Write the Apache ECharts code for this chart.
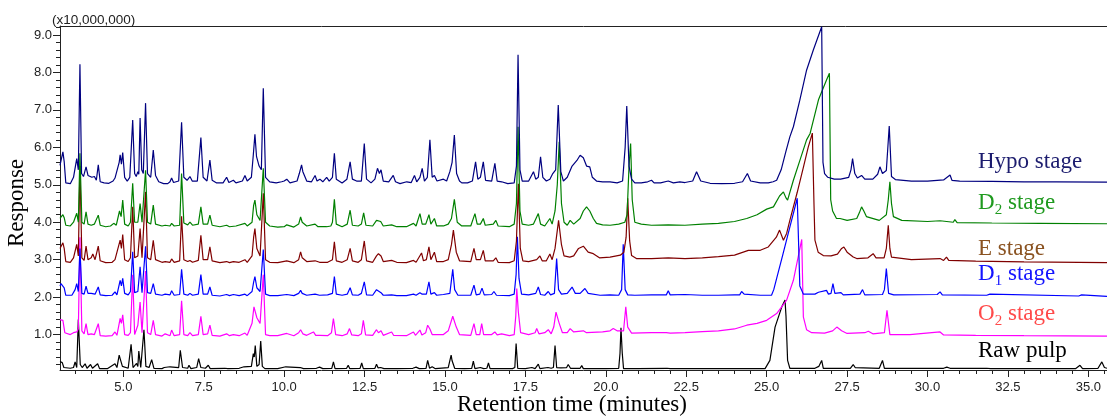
<!DOCTYPE html>
<html>
<head>
<meta charset="utf-8">
<script src="https://cdn.jsdelivr.net/npm/echarts@6/dist/echarts.min.js"></script>
<style>
  html, body { margin: 0; padding: 0; background: #fff; }
  #chart { width: 1107px; height: 419px; }
</style>
</head>
<body>
<div id="chart"></div>
<script>
// Total ion chromatograms of pulp bleaching stages, response in units of 1e7.
// Each trace is a list of [retention time (min), response] points.

const hypoStage = [[3.03,5.52],[3.06,5.57],[3.12,5.88],[3.16,5.62],[3.21,5.05],[3.35,5.03],[3.45,5.2],[3.55,5.70],[3.60,5.4],[3.65,8.22],[3.70,5.3],[3.76,5.22],[3.84,5.48],[3.90,5.25],[3.96,5.28],[4.02,5.2],[4.10,5.22],[4.16,5.12],[4.22,5.53],[4.28,5.08],[4.40,5.05],[4.55,5.04],[4.68,5.1],[4.74,5.18],[4.80,5.15],[4.87,5.6],[4.90,5.8],[4.94,5.55],[4.98,5.86],[5.04,5.2],[5.12,5.1],[5.20,5.2],[5.29,6.73],[5.35,5.3],[5.40,5.22],[5.45,5.35],[5.48,5.28],[5.52,6.78],[5.57,5.4],[5.62,5.3],[5.69,7.18],[5.75,5.3],[5.85,5.2],[5.93,5.93],[6.00,5.25],[6.10,5.08],[6.25,5.03],[6.30,5.07],[6.38,5.03],[6.45,5.08],[6.50,5.18],[6.56,5.06],[6.72,5.1],[6.81,6.67],[6.88,5.2],[6.98,5.12],[7.07,5.22],[7.14,5.1],[7.30,5.1],[7.41,6.26],[7.48,5.2],[7.60,5.1],[7.69,5.66],[7.76,5.12],[7.90,5.05],[8.10,5.05],[8.21,5.2],[8.28,5.06],[8.42,5.12],[8.50,5.05],[8.70,5.1],[8.78,5.25],[8.85,5.1],[8.98,5.2],[9.04,5.8],[9.09,6.35],[9.14,5.75],[9.22,5.5],[9.29,5.4],[9.35,7.58],[9.42,5.2],[9.55,5.08],[9.75,5.05],[9.92,5.08],[10.00,5.1],[10.08,5.15],[10.18,5.05],[10.40,5.1],[10.47,5.3],[10.54,5.53],[10.58,5.35],[10.62,5.4],[10.70,5.1],[10.85,5.08],[10.96,5.25],[11.02,5.1],[11.11,5.15],[11.20,5.08],[11.32,5.2],[11.40,5.1],[11.50,5.2],[11.56,5.84],[11.62,5.15],[11.80,5.05],[11.95,5.15],[12.05,5.61],[12.12,5.15],[12.25,5.1],[12.40,5.1],[12.49,6.10],[12.56,5.15],[12.70,5.05],[12.82,5.15],[12.90,5.44],[12.96,5.3],[13.01,5.4],[13.08,5.1],[13.25,5.08],[13.39,5.25],[13.46,5.08],[13.60,5.03],[13.81,5.08],[13.95,5.06],[14.05,5.25],[14.12,5.08],[14.22,5.2],[14.29,5.44],[14.36,5.1],[14.45,5.2],[14.53,6.20],[14.60,5.2],[14.67,5.25],[14.75,5.1],[14.95,5.15],[15.05,5.1],[15.15,5.35],[15.22,5.6],[15.29,6.33],[15.36,5.3],[15.45,5.1],[15.52,5.05],[15.70,5.05],[15.85,5.1],[15.95,5.61],[16.02,5.15],[16.10,5.2],[16.19,5.61],[16.26,5.12],[16.45,5.1],[16.55,5.57],[16.62,5.1],[16.76,5.08],[16.95,5.03],[17.15,5.05],[17.22,5.5],[17.27,8.47],[17.33,5.4],[17.40,5.1],[17.60,5.1],[17.75,5.35],[17.82,5.15],[17.90,5.2],[17.97,5.75],[18.04,5.2],[18.15,5.1],[18.26,5.15],[18.35,5.3],[18.44,5.4],[18.52,7.13],[18.60,5.35],[18.68,5.1],[18.80,5.2],[18.95,5.5],[19.10,5.65],[19.20,5.79],[19.30,5.72],[19.40,5.5],[19.50,5.48],[19.58,5.2],[19.71,5.1],[19.90,5.08],[20.13,5.08],[20.35,5.05],[20.52,5.1],[20.60,6.0],[20.65,7.10],[20.72,5.5],[20.80,5.15],[20.90,5.05],[21.10,5.05],[21.30,5.08],[21.42,5.12],[21.50,5.05],[21.70,5.05],[21.94,5.1],[22.10,5.05],[22.30,5.08],[22.46,5.06],[22.70,5.1],[22.82,5.35],[22.95,5.1],[23.24,5.04],[23.60,5.03],[24.00,5.04],[24.25,5.08],[24.40,5.3],[24.50,5.1],[24.80,5.05],[25.05,5.05],[25.20,5.08],[25.31,5.12],[25.45,5.4],[25.60,5.9],[25.72,6.28],[25.83,6.55],[26.03,7.26],[26.24,8.06],[26.45,8.6],[26.71,9.22],[26.75,5.6],[26.80,5.3],[26.90,5.2],[27.10,5.15],[27.30,5.15],[27.55,5.2],[27.62,5.4],[27.67,5.7],[27.74,5.3],[27.82,5.18],[27.95,5.25],[28.05,5.15],[28.30,5.15],[28.45,5.28],[28.52,5.48],[28.60,5.3],[28.72,5.38],[28.81,6.57],[28.88,5.22],[29.00,5.14],[29.50,5.1],[30.00,5.1],[30.30,5.12],[30.50,5.13],[30.70,5.26],[30.76,5.12],[31.00,5.1],[32.00,5.09],[33.00,5.08],[34.00,5.08],[35.58,5.07]];

const d2Stage = [[3.03,4.10],[3.06,4.15],[3.12,4.20],[3.16,4.12],[3.21,3.92],[3.35,3.9],[3.45,4.0],[3.55,4.24],[3.60,4.0],[3.65,5.84],[3.71,4.0],[3.78,3.95],[3.84,4.28],[3.90,3.95],[4.00,3.92],[4.10,3.95],[4.16,3.92],[4.22,4.19],[4.28,3.92],[4.45,3.88],[4.60,3.9],[4.70,3.97],[4.78,3.92],[4.88,4.3],[4.93,4.15],[4.98,4.59],[5.04,3.95],[5.15,3.9],[5.22,4.0],[5.29,5.04],[5.35,4.0],[5.45,4.0],[5.52,4.5],[5.58,4.0],[5.63,4.05],[5.69,5.39],[5.75,4.0],[5.85,3.95],[5.93,4.46],[6.00,3.95],[6.20,3.9],[6.30,3.92],[6.45,3.9],[6.50,3.97],[6.58,3.9],[6.75,3.92],[6.81,5.30],[6.88,3.98],[7.00,3.93],[7.07,4.0],[7.15,3.92],[7.33,3.95],[7.41,4.41],[7.48,3.95],[7.62,3.95],[7.69,4.19],[7.76,3.92],[8.00,3.88],[8.21,3.92],[8.30,3.88],[8.50,3.9],[8.78,3.97],[8.85,3.9],[9.00,4.0],[9.05,4.45],[9.09,4.59],[9.15,4.2],[9.25,4.05],[9.35,5.44],[9.42,4.0],[9.55,3.9],[9.80,3.87],[10.00,3.88],[10.08,3.93],[10.30,3.87],[10.45,3.95],[10.51,4.14],[10.56,4.0],[10.62,4.05],[10.70,3.9],[10.96,3.95],[11.05,3.88],[11.32,3.88],[11.45,3.9],[11.50,4.0],[11.56,4.61],[11.62,3.95],[11.80,3.88],[11.96,3.95],[12.05,4.32],[12.12,3.92],[12.30,3.9],[12.40,3.95],[12.47,4.25],[12.54,3.92],[12.75,3.9],[12.87,4.05],[12.93,4.10],[13.00,4.02],[13.08,3.9],[13.34,3.93],[13.50,3.88],[13.80,3.88],[14.02,3.97],[14.10,3.9],[14.22,4.23],[14.29,3.95],[14.40,3.95],[14.50,4.2],[14.56,3.95],[14.67,4.1],[14.74,3.9],[14.95,3.9],[15.10,3.95],[15.20,4.1],[15.29,4.61],[15.38,4.0],[15.52,3.9],[15.80,3.9],[15.93,4.23],[16.00,3.95],[16.10,3.95],[16.19,4.1],[16.25,3.92],[16.50,3.95],[16.58,4.05],[16.65,3.9],[17.00,3.88],[17.15,3.95],[17.22,4.5],[17.27,6.55],[17.33,4.3],[17.40,3.95],[17.60,3.92],[17.75,3.95],[17.90,4.23],[17.97,3.95],[18.10,3.9],[18.26,4.1],[18.33,3.95],[18.42,4.3],[18.49,5.0],[18.55,6.15],[18.62,4.5],[18.70,4.0],[18.80,3.92],[18.89,4.05],[19.00,3.95],[19.20,4.1],[19.30,4.3],[19.40,4.41],[19.50,4.3],[19.61,4.1],[19.71,3.97],[19.90,3.93],[20.13,3.92],[20.40,3.95],[20.59,4.0],[20.66,4.2],[20.72,5.5],[20.77,6.10],[20.82,4.6],[20.90,4.0],[21.10,3.95],[21.42,3.92],[21.94,3.93],[22.46,3.92],[23.00,3.95],[23.50,3.97],[24.00,4.02],[24.38,4.1],[24.70,4.2],[25.00,4.35],[25.21,4.41],[25.40,4.7],[25.52,4.81],[25.60,4.65],[25.65,4.59],[25.83,5.12],[26.05,5.7],[26.24,6.2],[26.35,6.37],[26.61,7.27],[26.86,7.8],[26.95,7.98],[26.99,4.6],[27.05,4.3],[27.17,4.1],[27.28,4.1],[27.50,4.05],[27.80,4.1],[27.88,4.25],[27.95,4.41],[28.02,4.3],[28.10,4.15],[28.50,4.05],[28.72,4.2],[28.78,4.6],[28.83,5.08],[28.88,4.5],[28.94,4.15],[29.20,4.05],[30.00,4.02],[30.39,4.04],[30.45,3.99],[30.80,4.0],[30.85,4.07],[30.92,3.99],[32.00,3.98],[33.50,3.97],[35.58,3.96]];

const eStage = [[3.03,3.30],[3.06,3.34],[3.12,3.45],[3.16,3.30],[3.21,2.95],[3.35,2.93],[3.45,3.05],[3.55,3.41],[3.60,3.1],[3.65,5.5],[3.71,3.05],[3.78,2.98],[3.84,3.36],[3.90,3.0],[4.00,3.05],[4.05,3.15],[4.12,3.0],[4.22,3.36],[4.28,2.97],[4.45,2.92],[4.65,2.93],[4.74,3.0],[4.80,2.95],[4.90,3.52],[4.94,3.3],[4.98,3.67],[5.04,3.0],[5.15,2.95],[5.22,3.05],[5.29,4.41],[5.35,3.05],[5.45,3.1],[5.52,3.83],[5.58,3.05],[5.63,3.1],[5.69,4.81],[5.75,3.05],[5.85,3.0],[5.93,3.52],[6.00,3.0],[6.20,2.93],[6.30,2.95],[6.45,2.93],[6.50,3.02],[6.58,2.93],[6.75,2.97],[6.81,4.16],[6.88,3.0],[7.00,2.95],[7.07,2.98],[7.15,2.93],[7.33,2.98],[7.41,3.65],[7.48,3.0],[7.62,3.0],[7.69,3.34],[7.76,2.97],[8.00,2.92],[8.21,2.95],[8.30,2.92],[8.42,2.95],[8.60,2.93],[8.78,3.0],[8.85,2.93],[9.00,3.1],[9.05,3.6],[9.09,3.83],[9.15,3.3],[9.25,3.1],[9.35,4.77],[9.42,3.0],[9.55,2.93],[9.80,2.92],[10.08,2.97],[10.30,2.92],[10.45,3.0],[10.51,3.21],[10.56,3.05],[10.62,3.08],[10.70,2.95],[10.96,2.97],[11.10,2.93],[11.35,2.93],[11.50,3.0],[11.56,3.48],[11.62,2.97],[11.80,2.93],[11.96,3.0],[12.05,3.3],[12.12,2.97],[12.30,2.93],[12.40,3.0],[12.49,3.5],[12.56,2.97],[12.75,2.93],[12.87,3.1],[12.93,3.16],[13.01,3.1],[13.08,2.95],[13.34,2.98],[13.50,2.93],[13.80,2.92],[14.02,2.98],[14.10,2.93],[14.27,3.18],[14.33,2.97],[14.42,3.0],[14.50,3.34],[14.56,3.0],[14.67,3.2],[14.74,2.95],[14.95,2.95],[15.10,3.0],[15.20,3.4],[15.26,3.79],[15.35,3.2],[15.45,2.97],[15.80,2.95],[15.90,3.3],[15.97,3.0],[16.10,3.0],[16.19,3.25],[16.25,2.97],[16.50,2.97],[16.58,3.05],[16.65,2.93],[17.00,2.92],[17.15,2.97],[17.22,3.5],[17.28,5.03],[17.34,3.3],[17.42,2.97],[17.60,2.95],[17.85,3.0],[17.95,3.1],[18.02,2.97],[18.15,2.97],[18.26,3.15],[18.33,3.0],[18.42,3.3],[18.53,4.05],[18.62,3.4],[18.70,3.1],[18.88,3.07],[19.00,3.1],[19.15,3.3],[19.30,3.36],[19.45,3.2],[19.61,3.16],[19.80,3.05],[20.13,3.07],[20.45,3.12],[20.56,3.2],[20.63,3.6],[20.68,4.64],[20.74,3.5],[20.80,3.11],[20.95,3.03],[21.42,3.03],[21.94,3.05],[22.46,3.03],[23.00,3.05],[23.50,3.08],[24.00,3.12],[24.43,3.25],[24.80,3.25],[25.05,3.34],[25.30,3.6],[25.40,3.79],[25.52,3.52],[25.62,3.7],[25.72,4.05],[25.95,4.8],[26.15,5.5],[26.29,6.0],[26.42,6.38],[26.47,4.5],[26.50,3.52],[26.60,3.2],[26.76,3.11],[27.00,3.1],[27.20,3.15],[27.33,3.3],[27.40,3.34],[27.50,3.2],[27.69,3.07],[27.80,3.03],[28.15,3.05],[28.31,3.16],[28.40,3.05],[28.65,3.05],[28.72,3.3],[28.78,3.92],[28.83,3.3],[28.88,3.07],[29.50,3.0],[30.39,3.03],[30.50,2.98],[30.59,3.07],[30.66,2.98],[31.50,2.96],[33.00,2.94],[35.58,2.92]];

const d1Stage = [[3.03,2.30],[3.06,2.36],[3.12,2.36],[3.16,2.25],[3.21,2.05],[3.40,2.05],[3.50,2.2],[3.55,2.36],[3.60,2.15],[3.65,3.3],[3.71,2.1],[3.78,2.08],[3.84,2.29],[3.90,2.1],[4.00,2.1],[4.05,2.14],[4.12,2.08],[4.22,2.27],[4.28,2.06],[4.45,2.04],[4.65,2.05],[4.74,2.14],[4.80,2.06],[4.90,2.45],[4.94,2.3],[4.98,2.5],[5.04,2.1],[5.15,2.06],[5.22,2.15],[5.29,3.21],[5.35,2.12],[5.45,2.15],[5.52,2.81],[5.58,2.12],[5.63,2.15],[5.69,3.36],[5.75,2.12],[5.85,2.1],[5.93,2.36],[6.00,2.08],[6.20,2.05],[6.30,2.08],[6.45,2.06],[6.50,2.17],[6.58,2.05],[6.75,2.07],[6.81,2.74],[6.88,2.08],[7.00,2.05],[7.07,2.1],[7.15,2.05],[7.33,2.08],[7.41,2.6],[7.48,2.08],[7.62,2.08],[7.69,2.27],[7.76,2.05],[8.00,2.03],[8.21,2.07],[8.30,2.04],[8.42,2.07],[8.60,2.04],[8.78,2.08],[8.85,2.04],[9.00,2.15],[9.05,2.4],[9.09,2.55],[9.15,2.25],[9.25,2.15],[9.35,3.27],[9.42,2.08],[9.55,2.04],[9.80,2.04],[10.08,2.07],[10.30,2.04],[10.45,2.1],[10.51,2.18],[10.56,2.1],[10.70,2.05],[10.96,2.08],[11.10,2.05],[11.35,2.06],[11.50,2.1],[11.56,2.55],[11.62,2.08],[11.80,2.05],[11.96,2.08],[12.05,2.25],[12.12,2.06],[12.30,2.05],[12.40,2.1],[12.49,2.41],[12.56,2.06],[12.75,2.05],[12.87,2.2],[12.93,2.15],[13.01,2.12],[13.08,2.05],[13.34,2.06],[13.50,2.04],[13.80,2.04],[14.02,2.08],[14.10,2.05],[14.22,2.12],[14.29,2.08],[14.42,2.08],[14.50,2.41],[14.56,2.08],[14.67,2.12],[14.74,2.05],[14.95,2.07],[15.15,2.1],[15.24,2.74],[15.30,2.2],[15.40,2.05],[15.80,2.05],[15.90,2.32],[15.97,2.06],[16.08,2.08],[16.15,2.24],[16.22,2.06],[16.45,2.07],[16.52,2.15],[16.60,2.05],[17.00,2.04],[17.15,2.08],[17.21,2.6],[17.25,3.61],[17.30,2.5],[17.38,2.08],[17.60,2.06],[17.82,2.1],[17.90,2.27],[17.97,2.07],[18.10,2.05],[18.21,2.15],[18.28,2.06],[18.40,2.1],[18.47,3.03],[18.53,2.2],[18.62,2.08],[18.80,2.1],[18.95,2.27],[19.05,2.1],[19.20,2.1],[19.35,2.23],[19.45,2.1],[19.82,2.05],[20.13,2.06],[20.40,2.05],[20.49,2.2],[20.54,3.41],[20.60,2.2],[20.68,2.06],[20.90,2.05],[21.42,2.06],[21.88,2.06],[21.94,2.17],[22.00,2.06],[22.46,2.07],[23.00,2.05],[23.50,2.05],[24.00,2.06],[24.16,2.06],[24.22,2.15],[24.30,2.08],[24.80,2.05],[25.15,2.05],[25.22,2.2],[25.31,2.5],[25.50,3.13],[25.70,3.8],[25.95,4.64],[25.99,3.5],[26.03,2.3],[26.14,2.08],[26.50,2.08],[26.61,2.13],[26.66,2.08],[26.86,2.18],[26.92,2.08],[27.00,2.1],[27.06,2.36],[27.12,2.1],[27.31,2.12],[27.38,2.06],[27.90,2.08],[27.98,2.2],[28.05,2.06],[28.60,2.07],[28.66,2.2],[28.72,2.76],[28.79,2.1],[28.95,2.06],[30.30,2.07],[30.39,2.14],[30.46,2.06],[31.84,2.05],[31.94,2.08],[32.00,2.04],[34.70,2.03],[34.79,2.06],[34.85,2.03],[35.58,2.02]];

const o2Stage = [[3.03,1.40],[3.06,1.43],[3.12,1.38],[3.18,1.05],[3.35,1.0],[3.45,1.05],[3.55,1.07],[3.60,1.15],[3.65,3.6],[3.71,1.1],[3.78,1.02],[3.84,1.29],[3.90,1.0],[4.00,1.02],[4.10,1.0],[4.16,0.98],[4.22,1.29],[4.28,0.97],[4.45,0.96],[4.65,0.97],[4.74,1.07],[4.80,0.98],[4.90,1.43],[4.94,1.3],[4.98,1.53],[5.04,1.0],[5.15,0.98],[5.22,1.05],[5.29,2.6],[5.35,1.0],[5.45,1.25],[5.52,1.87],[5.58,1.05],[5.63,1.1],[5.69,2.7],[5.75,1.05],[5.85,1.0],[5.93,1.38],[6.00,1.0],[6.20,0.96],[6.30,1.02],[6.45,0.97],[6.50,1.12],[6.58,0.97],[6.75,1.0],[6.81,1.90],[6.88,1.0],[7.00,0.97],[7.07,1.05],[7.15,0.97],[7.33,1.0],[7.41,1.49],[7.48,1.0],[7.62,1.02],[7.69,1.25],[7.76,0.98],[8.00,0.96],[8.21,1.02],[8.30,0.97],[8.42,1.0],[8.60,0.97],[8.78,1.04],[8.85,0.98],[9.00,1.3],[9.06,1.74],[9.15,1.45],[9.25,1.3],[9.35,2.6],[9.42,1.0],[9.55,0.97],[9.80,0.97],[10.08,1.03],[10.30,0.97],[10.45,1.05],[10.51,1.13],[10.58,1.02],[10.70,0.98],[10.91,1.07],[10.98,0.98],[11.11,0.98],[11.35,0.97],[11.47,1.05],[11.53,1.43],[11.60,1.0],[11.80,0.97],[11.96,1.02],[12.03,1.16],[12.10,0.99],[12.30,0.97],[12.40,1.02],[12.46,1.38],[12.53,0.99],[12.75,0.98],[12.87,1.13],[12.93,1.05],[13.01,1.1],[13.08,0.98],[13.34,1.07],[13.40,0.98],[13.80,0.97],[14.02,1.07],[14.08,0.98],[14.22,1.12],[14.28,0.99],[14.40,1.05],[14.46,1.25],[14.53,1.15],[14.60,1.0],[14.95,1.0],[15.10,1.1],[15.24,1.49],[15.35,1.2],[15.45,1.0],[15.80,0.98],[15.90,1.29],[15.97,1.0],[16.08,1.0],[16.14,1.29],[16.20,1.0],[16.45,1.0],[16.55,1.07],[16.62,0.99],[16.76,1.02],[17.00,0.97],[17.15,1.0],[17.20,1.5],[17.23,2.23],[17.28,1.6],[17.35,1.05],[17.60,1.0],[17.80,1.05],[17.85,1.16],[17.92,1.02],[18.10,1.05],[18.21,1.13],[18.30,1.02],[18.38,1.2],[18.45,1.6],[18.55,1.3],[18.65,1.05],[18.80,1.05],[18.89,1.16],[19.00,1.07],[19.30,1.1],[19.40,1.05],[19.90,1.07],[20.13,1.1],[20.23,1.16],[20.35,1.1],[20.55,1.1],[20.62,1.74],[20.68,1.2],[20.80,1.04],[21.42,1.05],[21.88,1.05],[21.94,1.1],[22.00,1.04],[22.46,1.05],[23.00,1.08],[23.50,1.1],[24.00,1.15],[24.38,1.25],[24.70,1.3],[25.00,1.38],[25.31,1.56],[25.62,1.92],[25.83,2.45],[26.09,3.54],[26.14,1.47],[26.24,1.13],[26.40,1.05],[26.80,1.04],[27.05,1.1],[27.18,1.2],[27.33,1.1],[27.50,1.03],[28.05,1.05],[28.16,1.09],[28.30,1.02],[28.66,1.05],[28.74,1.65],[28.83,1.0],[29.45,1.0],[30.39,1.07],[30.50,0.99],[31.50,0.98],[33.00,0.97],[35.58,0.96]];

const rawPulp = [[3.03,0.28],[3.06,0.31],[3.10,0.25],[3.15,0.12],[3.35,0.1],[3.45,0.12],[3.50,0.27],[3.55,0.12],[3.60,1.40],[3.66,0.2],[3.72,0.12],[3.81,0.22],[3.87,0.1],[3.98,0.2],[4.04,0.1],[4.20,0.22],[4.26,0.09],[4.50,0.09],[4.74,0.22],[4.80,0.12],[4.87,0.45],[4.90,0.36],[4.92,0.38],[4.97,0.15],[5.02,0.1],[5.15,0.1],[5.24,0.74],[5.30,0.12],[5.41,0.23],[5.45,0.15],[5.48,0.56],[5.54,0.12],[5.60,0.15],[5.64,1.13],[5.70,0.15],[5.80,0.12],[5.88,0.33],[5.95,0.1],[6.20,0.09],[6.27,0.12],[6.33,0.09],[6.45,0.14],[6.50,0.09],[6.72,0.12],[6.77,0.58],[6.84,0.12],[7.00,0.1],[7.04,0.18],[7.10,0.09],[7.28,0.12],[7.34,0.36],[7.41,0.12],[7.55,0.1],[7.64,0.18],[7.70,0.09],[8.15,0.1],[8.19,0.14],[8.25,0.09],[8.60,0.1],[8.75,0.14],[8.80,0.09],[8.98,0.15],[9.04,0.49],[9.07,0.4],[9.10,0.71],[9.15,0.15],[9.22,0.2],[9.27,0.83],[9.32,0.15],[9.40,0.09],[9.80,0.09],[10.05,0.14],[10.10,0.09],[10.50,0.12],[10.60,0.09],[11.00,0.1],[11.10,0.13],[11.20,0.09],[11.48,0.1],[11.53,0.27],[11.58,0.09],[11.94,0.1],[11.99,0.18],[12.04,0.09],[12.36,0.1],[12.41,0.24],[12.46,0.09],[12.82,0.1],[12.87,0.21],[12.92,0.11],[13.00,0.12],[13.10,0.09],[13.50,0.09],[14.00,0.1],[14.10,0.13],[14.20,0.09],[14.41,0.1],[14.46,0.31],[14.52,0.1],[14.60,0.14],[14.70,0.09],[15.10,0.12],[15.19,0.45],[15.22,0.3],[15.25,0.33],[15.30,0.1],[15.60,0.09],[15.83,0.1],[15.88,0.29],[15.93,0.09],[16.10,0.12],[16.20,0.09],[16.30,0.1],[16.35,0.24],[16.40,0.09],[17.10,0.09],[17.17,0.12],[17.21,0.76],[17.26,0.1],[17.50,0.09],[17.70,0.12],[17.80,0.09],[17.85,0.1],[17.90,0.21],[17.95,0.09],[18.20,0.12],[18.30,0.1],[18.37,0.12],[18.42,0.71],[18.47,0.12],[18.60,0.11],[18.78,0.12],[18.83,0.2],[18.90,0.1],[19.20,0.1],[19.25,0.17],[19.30,0.09],[20.00,0.09],[20.40,0.1],[20.44,0.5],[20.47,1.18],[20.51,0.5],[20.55,0.09],[21.00,0.09],[21.90,0.1],[21.94,0.13],[22.00,0.09],[22.50,0.09],[23.50,0.09],[24.95,0.09],[25.10,0.31],[25.26,1.2],[25.47,1.74],[25.57,1.92],[25.60,1.5],[25.65,0.31],[25.72,0.1],[26.50,0.1],[26.62,0.15],[26.67,0.2],[26.71,0.31],[26.76,0.1],[27.60,0.1],[27.69,0.2],[27.75,0.12],[28.50,0.1],[28.60,0.31],[28.66,0.1],[30.50,0.1],[30.60,0.13],[30.70,0.1],[31.84,0.1],[31.90,0.13],[31.96,0.09],[34.60,0.09],[34.74,0.18],[34.82,0.09],[35.30,0.1],[35.42,0.27],[35.50,0.12],[35.58,0.1]];

// Tick labels
const xTickLabels = [5.0, 7.5, 10.0, 12.5, 15.0, 17.5, 20.0, 22.5, 25.0, 27.5, 30.0, 32.5, 35.0];
const yTickLabels = [1.0, 2.0, 3.0, 4.0, 5.0, 6.0, 7.0, 8.0, 9.0];

// Trace labels: [main text, subscript, trailing text]
const stageLabels = [
  ['Hypo stage', '', ''],
  ['D', '2', ' stage'],
  ['E stage', '', ''],
  ['D', '1', ' stage'],
  ['O', '2', ' stage'],
  ['Raw pulp', '', '']
];

const X_MIN = 3.03, X_MAX = 35.58;
const Y_MIN = 0.054, Y_MAX = 9.24;

const xMinor = [];
for (let v = 3.5; v <= 35.5001; v += 0.5) xMinor.push(+v.toFixed(1));
const yMinor = [];
for (let v = 0.2; v <= 9.2001; v += 0.2) yMinor.push(+v.toFixed(1));

const axisColor = '#222';
const sansFont = '"Liberation Sans", Arial, sans-serif';
const serifFont = '"Liberation Serif", "Times New Roman", serif';

const chart = echarts.init(document.getElementById('chart'), null, { renderer: 'canvas' });

function traceSeries(name, data, color) {
  return {
    name, type: 'line', data,
    xAxisIndex: 0, yAxisIndex: 0,
    showSymbol: false, symbol: 'none',
    lineStyle: { width: 1.2, color },
    itemStyle: { color },
    emphasis: { disabled: true },
    animation: false
  };
}

// Label placement (left x, middle y) and colours
const labelX = 978;
const labelY = [162, 203, 249, 274, 314, 351];
const labelColors = ['#1c1c6e', '#1f9a1f', '#8a5220', '#1414ff', '#ff4a4a', '#000000'];
const mainSize = 23, subSize = 15;

const graphics = [];
stageLabels.forEach((parts, i) => {
  const [main, sub, rest] = parts;
  graphics.push({
    type: 'text', x: labelX, y: labelY[i], silent: true,
    style: { text: main, fill: labelColors[i], fontSize: mainSize, fontFamily: serifFont, align: 'left', verticalAlign: 'middle' }
  });
  if (sub) {
    graphics.push({
      type: 'text', x: labelX + 16.8, y: labelY[i] + 7, silent: true,
      style: { text: sub, fill: labelColors[i], fontSize: subSize, fontFamily: serifFont, align: 'left', verticalAlign: 'middle' }
    });
    graphics.push({
      type: 'text', x: labelX + 24.2, y: labelY[i], silent: true,
      style: { text: rest, fill: labelColors[i], fontSize: mainSize, fontFamily: serifFont, align: 'left', verticalAlign: 'middle' }
    });
  }
});

// Axis titles and scale note
graphics.push({
  type: 'text', x: 17, y: 203, rotation: Math.PI / 2, silent: true,
  style: { text: 'Response', fill: '#000', fontSize: 23, fontFamily: serifFont, align: 'center', verticalAlign: 'middle' }
});
graphics.push({
  type: 'text', x: 572, y: 405, silent: true,
  style: { text: 'Retention time (minutes)', fill: '#000', fontSize: 23, fontFamily: serifFont, align: 'center', verticalAlign: 'middle' }
});
graphics.push({
  type: 'text', x: 52, y: 20, silent: true,
  style: { text: '(x10,000,000)', fill: axisColor, fontSize: 13.5, fontFamily: sansFont, align: 'left', verticalAlign: 'middle' }
});

const option = {
  backgroundColor: '#fff',
  animation: false,
  grid: { left: 60, right: 0, top: 26, bottom: 49, containLabel: false },
  xAxis: [
    {
      type: 'value', min: X_MIN, max: X_MAX, position: 'bottom',
      axisLine: { show: true, onZero: false, lineStyle: { color: axisColor, width: 1 } },
      axisTick: { show: true, customValues: xTickLabels, length: 7, lineStyle: { color: axisColor } },
      axisLabel: { show: true, customValues: xTickLabels, formatter: v => v.toFixed(1), color: axisColor, fontSize: 13, fontFamily: sansFont, margin: 11 },
      splitLine: { show: false }
    },
    {
      type: 'value', min: X_MIN, max: X_MAX, position: 'bottom',
      axisLine: { show: false, onZero: false },
      axisTick: { show: true, customValues: xMinor, length: 4, lineStyle: { color: axisColor } },
      axisLabel: { show: false },
      splitLine: { show: false }
    },
    {
      type: 'value', min: X_MIN, max: X_MAX, position: 'top',
      axisLine: { show: true, onZero: false, lineStyle: { color: axisColor, width: 1 } },
      axisTick: { show: false }, axisLabel: { show: false }, splitLine: { show: false }
    }
  ],
  yAxis: [
    {
      type: 'value', min: Y_MIN, max: Y_MAX, position: 'left',
      axisLine: { show: true, onZero: false, lineStyle: { color: axisColor, width: 1 } },
      axisTick: { show: true, customValues: yTickLabels, length: 7, lineStyle: { color: axisColor } },
      axisLabel: { show: true, customValues: yTickLabels, formatter: v => v.toFixed(1), color: axisColor, fontSize: 13, fontFamily: sansFont, margin: 8 },
      splitLine: { show: false }
    },
    {
      type: 'value', min: Y_MIN, max: Y_MAX, position: 'left',
      axisLine: { show: false, onZero: false },
      axisTick: { show: true, customValues: yMinor, length: 4, lineStyle: { color: axisColor } },
      axisLabel: { show: false },
      splitLine: { show: false }
    }
  ],
  series: [
    traceSeries('Raw pulp', rawPulp, '#000000'),
    traceSeries('O2 stage', o2Stage, '#ff00ff'),
    traceSeries('D1 stage', d1Stage, '#0000ff'),
    traceSeries('E stage', eStage, '#800000'),
    traceSeries('D2 stage', d2Stage, '#008000'),
    traceSeries('Hypo stage', hypoStage, '#000080')
  ],
  graphic: graphics
};

chart.setOption(option);
</script>
</body>
</html>
